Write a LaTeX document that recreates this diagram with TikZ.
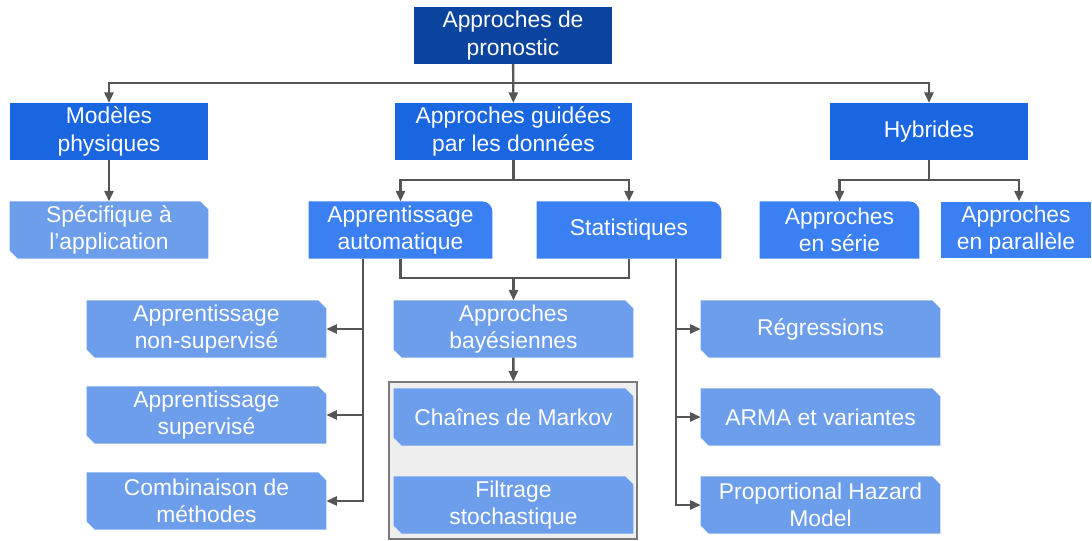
\documentclass[tikz,border=0pt]{standalone}
\usepackage{fontspec}
\setmainfont{Liberation Sans}
\usetikzlibrary{calc,backgrounds,arrows.meta}
\definecolor{navy}{HTML}{0B449F}
\definecolor{mainblue}{HTML}{1A66E0}
\definecolor{midblue}{HTML}{3A80F2}
\definecolor{lightblue}{HTML}{6D9EEB}
\definecolor{linegray}{HTML}{555555}
\definecolor{framegray}{HTML}{EEEEEE}
\definecolor{frameline}{HTML}{7A7A7A}
\begin{document}
\begin{tikzpicture}[font=\fontsize{13}{15.5}\selectfont,
  box/.style={align=center, text=white, inner sep=0pt,
              minimum height=1.13cm, minimum width=#1},
  arr/.style={-{Triangle[length=0.21cm, width=0.18cm]}, line width=1.35pt, draw=linegray},
  line/.style={line width=1.35pt, draw=linegray}
]
  \useasboundingbox (0,0) rectangle (21.84,-10.82);

  % --- Racine ---
  \node[box=3.96cm, fill=navy] (root) at (10.26,-0.71) {Approches de\\pronostic};

  % --- Niveau 1 ---
  \node[box=3.96cm, fill=mainblue] (phys) at (2.18,-2.63)  {Modèles\\physiques};
  \node[box=4.74cm, fill=mainblue] (data) at (10.27,-2.63) {Approches guidées\\par les données};
  \node[box=3.96cm, fill=mainblue] (hyb)  at (18.58,-2.63) {Hybrides};

  \draw[arr] (root) -- (data);
  \draw[arr] (root.south) -- ++(0,-0.38) -| (phys.north);
  \draw[arr] (root.south) -- ++(0,-0.38) -| (hyb.north);

  % --- Niveau 2 ---
  \node[box=3.96cm] (spec)  at (2.18,-4.60)  {Spécifique à\\l’application};
  \node[box=3.66cm] (ml)    at (8.01,-4.60)  {Apprentissage\\automatique};
  \node[box=3.68cm] (stat)  at (12.58,-4.60) {Statistiques};
  \node[box=3.18cm] (serie) at (16.79,-4.60) {Approches\\en série};
  \node[box=3.00cm, fill=midblue] (para) at (20.32,-4.60) {Approches\\en parallèle};

  \draw[arr] (phys) -- (spec);
  \draw[arr] (data.south) -- ++(0,-0.40) -| (ml.north);
  \draw[arr] (data.south) -- ++(0,-0.40) -| (stat.north);
  \draw[arr] (hyb.south) -- ++(0,-0.40) -| (serie.north);
  \draw[arr] (hyb.south) -- ++(0,-0.40) -| ([xshift=0.06cm]para.north);

  % --- Apprentissage automatique ---
  \node[box=4.78cm] (nonsup) at (4.13,-6.58)  {Apprentissage\\non-supervisé};
  \node[box=4.78cm] (sup)    at (4.13,-8.30)  {Apprentissage\\supervisé};
  \node[box=4.78cm] (comb)   at (4.13,-10.02) {Combinaison de\\méthodes};
  \draw[arr] ([xshift=-0.75cm]ml.south) |- (nonsup.east);
  \draw[arr] ([xshift=-0.75cm]ml.south) |- (sup.east);
  \draw[arr] ([xshift=-0.75cm]ml.south) |- (comb.east);

  % --- Approches bayésiennes ---
  \node[box=4.78cm] (bayes)  at (10.27,-6.58)  {Approches\\bayésiennes};
  \node[draw=frameline, fill=framegray, line width=0.6pt, minimum width=4.96cm,
        minimum height=3.14cm, inner sep=0pt] (grp) at (10.26,-9.21) {};
  \coordinate (mj) at (10.27,-5.56);
  \draw[line] (ml.south) |- (mj) -| (stat.south);
  \draw[arr] (mj) -- (bayes);
  \draw[arr] (bayes) -- (grp);

  % --- Statistiques ---
  \node[box=4.78cm] (regr) at (16.41,-6.58)  {Régressions};
  \node[box=4.78cm] (arma) at (16.41,-8.34)  {ARMA et variantes};
  \node[box=4.78cm] (phm)  at (16.41,-10.10) {Proportional Hazard\\Model};
  \draw[arr] ([xshift=0.94cm]stat.south) |- (regr.west);
  \draw[arr] ([xshift=0.94cm]stat.south) |- (arma.west);
  \draw[arr] ([xshift=0.94cm]stat.south) |- (phm.west);

  % --- fonds des boites ---
  \begin{scope}[on background layer]
    \foreach \n in {ml,stat,serie}
      \fill[midblue] (\n.south west) -- (\n.south east)
        -- ($(\n.north east)+(0,-0.2)$) arc[start angle=0, end angle=90, radius=0.2cm]
        -- (\n.north west) -- cycle;
    \foreach \n in {spec,nonsup,sup,comb,bayes,regr,arma,phm}
      \fill[lightblue] ($(\n.south west)+(0.16,0)$) -- (\n.south east)
        -- ($(\n.north east)+(0,-0.16)$) -- ($(\n.north east)+(-0.16,0)$)
        -- (\n.north west) -- ($(\n.south west)+(0,0.16)$) -- cycle;
  \end{scope}

  % --- boites dans le cadre gris ---
  \node[box=4.78cm] (markov) at (10.27,-8.34)  {};
  \node[box=4.78cm] (filt)   at (10.27,-10.10) {};
  \foreach \n in {markov,filt}
    \fill[lightblue] ($(\n.south west)+(0.16,0)$) -- (\n.south east)
      -- ($(\n.north east)+(0,-0.16)$) -- ($(\n.north east)+(-0.16,0)$)
      -- (\n.north west) -- ($(\n.south west)+(0,0.16)$) -- cycle;
  \node[box=4.78cm] (markovtxt) at (markov) {Chaînes de Markov};
  \node[box=4.78cm] (filttxt)   at (filt)   {Filtrage\\stochastique};
\end{tikzpicture}
\end{document}
